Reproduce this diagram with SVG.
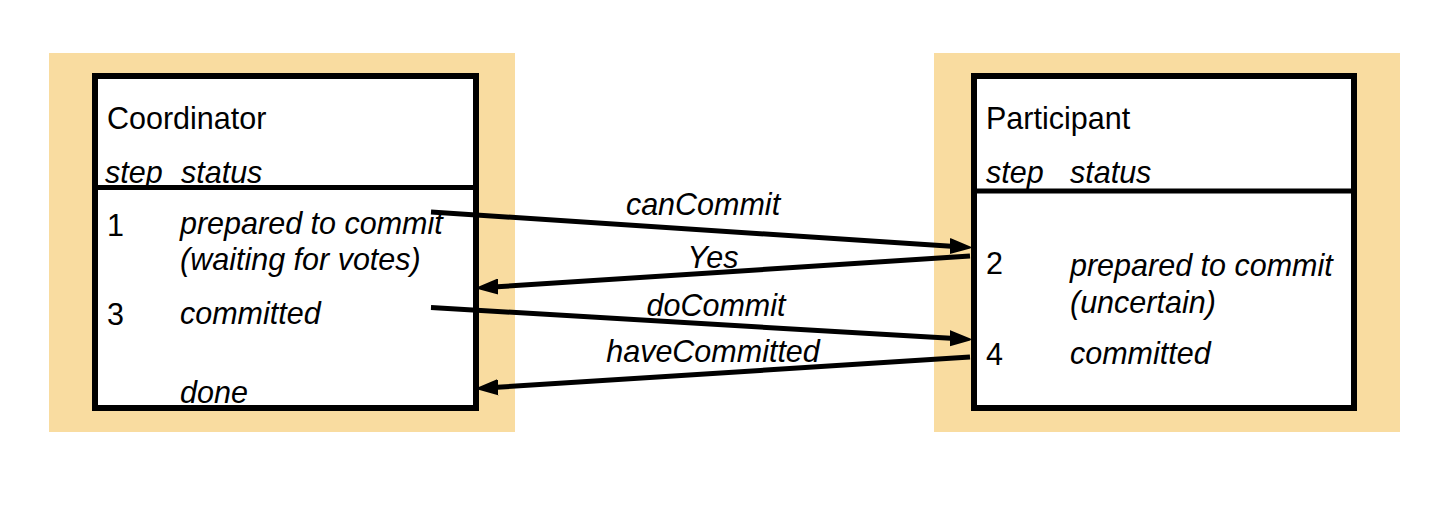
<svg xmlns="http://www.w3.org/2000/svg" width="1448" height="528" viewBox="0 0 1448 528">
<style>
.bg{fill:#F9DCA0}
.box{fill:#fff;stroke:#000;stroke-width:6}
.div{stroke:#000;stroke-width:5}
text{font-family:"Liberation Sans",Arial,sans-serif;font-size:30.5px;fill:#000}
.i{font-style:italic}
.lbl{font-style:italic;text-anchor:middle}
.conn{stroke:#000;stroke-width:5;fill:none;marker-end:url(#ah)}
</style>
<defs>
<marker id="ah" markerUnits="userSpaceOnUse" markerWidth="24" markerHeight="18" viewBox="0 -9 24 18" refX="5" refY="0" orient="auto">
<path d="M0,-7 L20,0 L0,7 Z" fill="#000" stroke="#000" stroke-width="2" stroke-linejoin="round"/>
</marker>
</defs>
<rect width="1448" height="528" fill="#fff"/>
<g id="coordinator">
<rect class="bg" x="49" y="53" width="466" height="379"/>
<rect class="box" x="95" y="76" width="381" height="332"/>
<line class="div" x1="95" y1="187.5" x2="473" y2="187.5"/>
<text x="107" y="129">Coordinator</text>
<text class="i" x="105" y="183">step</text>
<text class="i" x="181" y="183">status</text>
<text x="107" y="236">1</text>
<text class="i" x="180" y="234">prepared to commit</text>
<text class="i" x="180" y="270">(waiting for votes)</text>
<text x="107" y="325">3</text>
<text class="i" x="180" y="324">committed</text>
<text class="i" x="180" y="403">done</text>
</g>
<g id="participant">
<rect class="bg" x="934" y="53" width="466" height="379"/>
<rect class="box" x="974" y="76" width="380" height="332"/>
<line class="div" x1="974" y1="191" x2="1351" y2="191"/>
<text x="986" y="129">Participant</text>
<text class="i" x="986" y="183">step</text>
<text class="i" x="1070" y="183">status</text>
<text x="986" y="274">2</text>
<text class="i" x="1070" y="276">prepared to commit</text>
<text class="i" x="1070" y="313">(uncertain)</text>
<text x="986" y="365">4</text>
<text class="i" x="1070" y="364">committed</text>
</g>
<g id="connectors">
<line class="conn" x1="431" y1="212" x2="955" y2="246.5"/>
<line class="conn" x1="970" y1="256" x2="493" y2="287"/>
<line class="conn" x1="431" y1="307.5" x2="955" y2="338.6"/>
<line class="conn" x1="970" y1="357" x2="493" y2="387.5"/>
<text class="lbl" x="703" y="215">canCommit</text>
<text class="lbl" x="713" y="268">Yes</text>
<text class="lbl" x="716" y="316">doCommit</text>
<text class="lbl" x="713" y="362">haveCommitted</text>
</g>
</svg>
